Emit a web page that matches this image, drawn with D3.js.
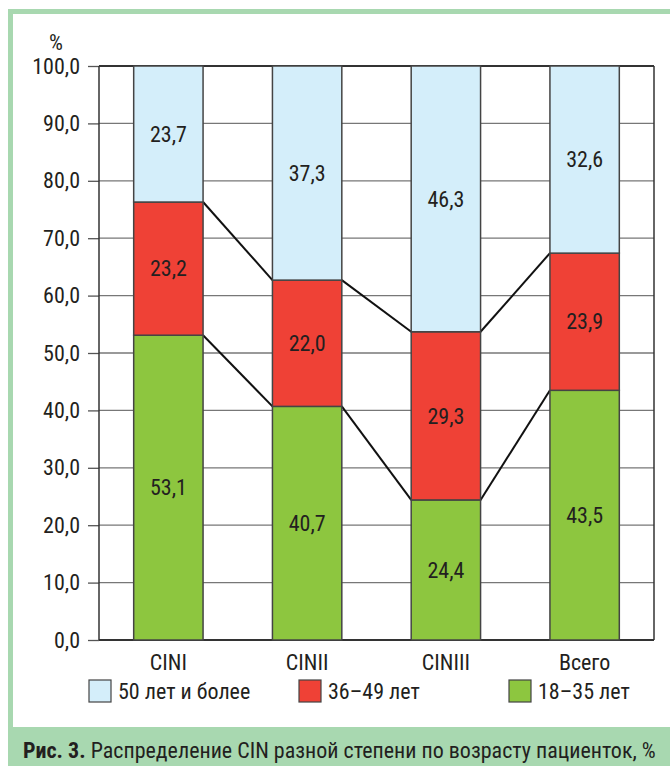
<!DOCTYPE html>
<html>
<head>
<meta charset="utf-8">
<script src="https://cdn.jsdelivr.net/npm/d3@7"></script>
<style>
  html, body { margin: 0; padding: 0; background: #fff; }
  svg { display: block; }
  text { font-family: "Liberation Sans Narrow", "Roboto Condensed", "DejaVu Sans Condensed", "Liberation Sans", sans-serif; fill: #231f20; }
</style>
</head>
<body>
<script>
const categories = ["CINI", "CINII", "CINIII", "Всего"];
const seriesNames = ["18–35 лет", "36–49 лет", "50 лет и более"];
const young = [53.1, 40.7, 24.4, 43.5];
const middle = [23.2, 22.0, 29.3, 23.9];
const older = [23.7, 37.3, 46.3, 32.6];
const yTicks = [0, 10, 20, 30, 40, 50, 60, 70, 80, 90, 100];
const legendOrder = ["50 лет и более", "36–49 лет", "18–35 лет"];
const captionBold = "Рис. 3.";
const captionText = " Распределение CIN разной степени по возрасту пациенток, %";

const W = 670, H = 766;
const FS = 22;
const colors = { "18–35 лет": "#8dc63f", "36–49 лет": "#ef4136", "50 лет и более": "#d4eefa" };
const frameColor = "#a8d8b0";

const svg = d3.select("body").append("svg").attr("width", W).attr("height", H);

// frame
svg.append("rect").attr("x", 8).attr("y", 9).attr("width", W - 8).attr("height", 5).attr("fill", frameColor);
svg.append("rect").attr("x", 8).attr("y", 9).attr("width", 5).attr("height", 720).attr("fill", frameColor);
svg.append("rect").attr("x", 8).attr("y", 727).attr("width", W - 8).attr("height", H - 727).attr("fill", frameColor);

const plot = { left: 99, right: 654, top: 66, bottom: 640 };
const x = d3.scaleBand().domain(categories).range([plot.left, plot.right]).paddingInner(0.5).paddingOuter(0.25);
const y = d3.scaleLinear().domain([0, 100]).range([plot.bottom, plot.top]);

// y axis with gridlines
const yAxis = d3.axisLeft(y).tickValues(yTicks).tickSize(11).tickPadding(8)
  .tickFormat(d => d3.format(".1f")(d).replace(".", ","));
const gy = svg.append("g").attr("transform", `translate(${plot.left},0)`).call(yAxis);
gy.select(".domain").remove();
gy.selectAll(".tick line").attr("stroke", "#555").attr("stroke-width", 1.3);
gy.selectAll(".tick text").attr("font-size", FS).attr("fill", "#231f20")
  .style("font-family", '"Liberation Sans Narrow", "Roboto Condensed", "DejaVu Sans Condensed", sans-serif');

svg.append("g").selectAll("line").data(yTicks).join("line")
  .attr("x1", plot.left).attr("x2", plot.right)
  .attr("y1", d => y(d)).attr("y2", d => y(d))
  .attr("stroke", d => (d === 0 || d === 100) ? "#333" : "#777")
  .attr("stroke-width", d => (d === 0 || d === 100) ? 1.8 : 1.3);
svg.append("line").attr("x1", plot.left).attr("x2", plot.left).attr("y1", plot.top).attr("y2", plot.bottom).attr("stroke", "#333").attr("stroke-width", 1.5);
svg.append("line").attr("x1", plot.right).attr("x2", plot.right).attr("y1", plot.top).attr("y2", plot.bottom).attr("stroke", "#333").attr("stroke-width", 1.5);

// "%" label
svg.append("text").attr("x", 56).attr("y", 50).attr("text-anchor", "middle").attr("font-size", FS).text("%");

// stacked data
const rows = categories.map((c, i) => ({ cat: c, "18–35 лет": young[i], "36–49 лет": middle[i], "50 лет и более": older[i] }));
const stack = d3.stack().keys(seriesNames)(rows);

// connecting lines
const conn = [];
stack.slice(0, 2).forEach(s => {
  for (let i = 0; i < categories.length - 1; i++) {
    conn.push({ x1: x(categories[i]) + x.bandwidth(), y1: y(s[i][1]), x2: x(categories[i + 1]), y2: y(s[i + 1][1]) });
  }
});
svg.append("g").selectAll("line").data(conn).join("line")
  .attr("x1", d => d.x1).attr("y1", d => d.y1).attr("x2", d => d.x2).attr("y2", d => d.y2)
  .attr("stroke", "#111").attr("stroke-width", 2);

// bars
const gBars = svg.append("g");
stack.forEach(s => {
  gBars.append("g").selectAll("rect").data(s).join("rect")
    .attr("x", d => x(d.data.cat)).attr("width", x.bandwidth())
    .attr("y", d => y(d[1])).attr("height", d => y(d[0]) - y(d[1]))
    .attr("fill", colors[s.key]).attr("stroke", "#444").attr("stroke-width", 1.5);
});
stack.forEach(s => {
  gBars.append("g").selectAll("text").data(s).join("text")
    .attr("x", d => x(d.data.cat) + x.bandwidth() / 2)
    .attr("y", d => y((d[0] + d[1]) / 2))
    .attr("dy", "0.35em").attr("text-anchor", "middle").attr("font-size", FS)
    .text(d => d3.format(".1f")(d[1] - d[0]).replace(".", ","));
});

// x axis labels
svg.append("g").selectAll("text").data(categories).join("text")
  .attr("x", d => x(d) + x.bandwidth() / 2).attr("y", 670)
  .attr("text-anchor", "middle").attr("font-size", FS).text(d => d);

// legend
const legendX = [89, 299, 509];
const lg = svg.append("g").selectAll("g").data(legendOrder).join("g")
  .attr("transform", (d, i) => `translate(${legendX[i]},680)`);
lg.append("rect").attr("width", 22).attr("height", 22).attr("fill", d => colors[d]).attr("stroke", "#444").attr("stroke-width", 1.2);
lg.append("text").attr("x", 29).attr("y", 19).attr("font-size", FS).text(d => d);

// caption
const cap = svg.append("text").attr("x", 23).attr("y", 758).attr("font-size", FS);
cap.append("tspan").attr("font-weight", "bold").text(captionBold);
cap.append("tspan").text(captionText);
</script>
</body>
</html>
